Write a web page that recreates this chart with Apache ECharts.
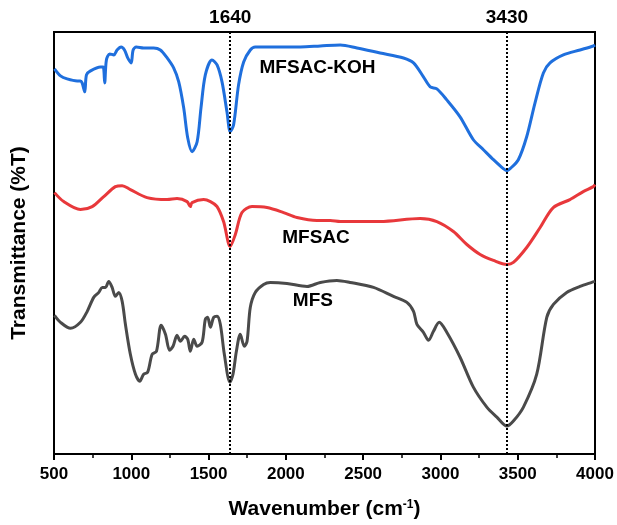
<!DOCTYPE html>
<html>
<head>
<meta charset="utf-8">
<script src="https://cdn.jsdelivr.net/npm/echarts@6/dist/echarts.min.js"></script>
<style>
  html, body { margin: 0; padding: 0; background: #fff; }
  #chart { width: 617px; height: 525px; }
</style>
</head>
<body>
<div id="chart"></div>
<script>
// FTIR spectra: [wavenumber (cm-1), transmittance (offset, arbitrary units)]
const mfsacKoh = [
  [503,386],[542,379],[585,376],[650,374],[671,374],[682,372],[699,363],[710,380],[736,384],
  [801,388],[818,388],[828,372],[839,395],[861,401],[887,400],[908,405],[934,408],[956,405],
  [977,397],[999,392],[1012,405],[1033,408],[1080,407],[1145,407],[1188,405],[1232,397],
  [1274,387],[1307,373],[1339,347],[1365,317],[1393,303],[1426,313],[1451,347],[1479,380],
  [1522,395],[1555,390],[1587,373],[1619,343],[1640,323],[1662,330],[1694,370],[1727,393],
  [1770,405],[1802,408],[1899,408],[1964,408],[2093,408],[2223,409],[2352,410],[2460,407],
  [2610,402],[2761,397],[2826,392],[2890,378],[2934,368],[2977,366],[3041,355],[3127,338],
  [3213,315],[3278,305],[3343,295],[3407,286],[3430,284],[3451,286],[3504,295],[3558,318],
  [3612,352],[3666,382],[3709,392],[3795,400],[3903,405],[3989,409],[4000,410]
];
const mfsac = [
  [503,262],[563,253],[671,245],[747,248],[822,258],[897,268],[941,269],[994,265],[1102,257],
  [1232,255],[1296,256],[1361,253],[1382,248],[1393,252],[1468,255],[1512,253],[1555,248],
  [1597,233],[1640,208],[1673,220],[1716,242],[1781,248],[1878,247],[1985,242],[2072,237],
  [2201,234],[2287,234],[2352,233],[2610,233],[2869,236],[2977,233],[3084,223],[3171,210],
  [3257,200],[3343,194],[3430,190],[3472,192],[3558,207],[3645,227],[3730,247],[3838,255],
  [3924,263],[3989,268],[4000,270]
];
const mfs = [
  [503,139],[542,132],[607,126],[671,132],[715,143],[757,157],[790,162],[812,167],[833,167],
  [854,173],[876,167],[897,158],[919,162],[941,153],[962,130],[994,100],[1027,80],[1055,73],
  [1080,80],[1106,82],[1135,100],[1163,103],[1193,129],[1221,120],[1248,104],[1270,108],
  [1296,119],[1318,113],[1345,118],[1365,115],[1382,103],[1404,115],[1426,108],[1458,112],
  [1479,135],[1494,137],[1512,127],[1533,137],[1555,138],[1576,130],[1602,100],[1638,72],
  [1658,80],[1680,103],[1705,120],[1731,108],[1749,113],[1770,147],[1802,162],[1856,170],
  [1899,172],[2007,171],[2137,168],[2223,172],[2330,174],[2416,172],[2567,167],[2696,158],
  [2783,152],[2826,143],[2848,130],[2890,122],[2923,114],[2955,123],[2992,132],[3041,122],
  [3127,97],[3213,67],[3300,47],[3365,37],[3430,28],[3472,33],[3537,47],[3623,80],[3688,137],
  [3731,150],[3817,162],[3903,168],[3979,172],[4000,173]
];
const peakMarks = [1640, 3430];
const seriesNames = ['MFSAC-KOH', 'MFSAC', 'MFS'];
// label anchor points for each spectrum name: [wavenumber, transmittance]
const nameAnchors = [[2205, 387], [2195, 217], [2175, 154]];

const FONT = '"Liberation Sans", Arial, sans-serif';
const colors = ['#1f6fdd', '#e8383b', '#4a4a4a'];
const allData = [mfsacKoh, mfsac, mfs];

const chart = echarts.init(document.getElementById('chart'), null, { renderer: 'canvas' });

const series = allData.map((d, i) => ({
  name: seriesNames[i],
  type: 'line',
  data: d,
  showSymbol: false,
  smooth: 0.3,
  lineStyle: { color: colors[i], width: 3 },
  z: 3,
  animation: false
}));

// vertical dotted guides at the assigned band positions
series[0].markLine = {
  silent: true,
  symbol: 'none',
  animation: false,
  lineStyle: { color: '#000', type: 'dotted', width: 2 },
  label: {
    show: true, position: 'end', distance: 5,
    color: '#000', fontFamily: FONT, fontWeight: 'bold', fontSize: 19,
    formatter: p => String(p.value)
  },
  data: peakMarks.map(v => ({ xAxis: v }))
};

// spectrum name labels
series.push({
  type: 'scatter',
  data: nameAnchors.map((p, i) => ({ value: p, name: seriesNames[i] })),
  symbolSize: 0,
  silent: true,
  animation: false,
  itemStyle: { color: '#000', opacity: 1 },
  label: {
    show: true, position: 'inside', opacity: 1,
    color: '#000', textBorderWidth: 0, textBorderColor: 'transparent',
    fontFamily: FONT, fontWeight: 'bold', fontSize: 19,
    formatter: p => p.name
  },
  z: 5
});

chart.setOption({
  backgroundColor: '#fff',
  animation: false,
  grid: {
    left: 54, right: 22, top: 32, bottom: 70,
    show: true, borderColor: '#000', borderWidth: 2, backgroundColor: 'transparent'
  },
  xAxis: {
    type: 'value', min: 500, max: 4000, interval: 500,
    axisLine: { show: true, lineStyle: { color: '#000', width: 2 } },
    axisTick: { show: true, inside: false, length: 6, lineStyle: { color: '#000', width: 2 } },
    minorTick: { show: true, splitNumber: 2, length: 4, lineStyle: { color: '#000', width: 1.5 } },
    splitLine: { show: false },
    axisLabel: {
      color: '#000', fontFamily: FONT, fontWeight: 'bold', fontSize: 17, margin: 12,
      formatter: v => String(v)
    },
    name: 'Wavenumber (cm{sup|-1})',
    nameLocation: 'middle',
    nameGap: 45,
    nameTextStyle: {
      color: '#000', fontFamily: FONT, fontWeight: 'bold', fontSize: 21,
      rich: { sup: { fontFamily: FONT, fontWeight: 'bold', fontSize: 12, verticalAlign: 'top', color: '#000', padding: [0, 0, 8, 0] } }
    }
  },
  yAxis: {
    type: 'value', min: 0, max: 423,
    axisLine: { show: true, lineStyle: { color: '#000', width: 2 } },
    axisTick: { show: false },
    axisLabel: { show: false },
    splitLine: { show: false },
    name: 'Transmittance (%T)',
    nameLocation: 'middle',
    nameGap: 24,
    nameTextStyle: { color: '#000', fontFamily: FONT, fontWeight: 'bold', fontSize: 21 }
  },
  series: series
});
</script>
</body>
</html>
